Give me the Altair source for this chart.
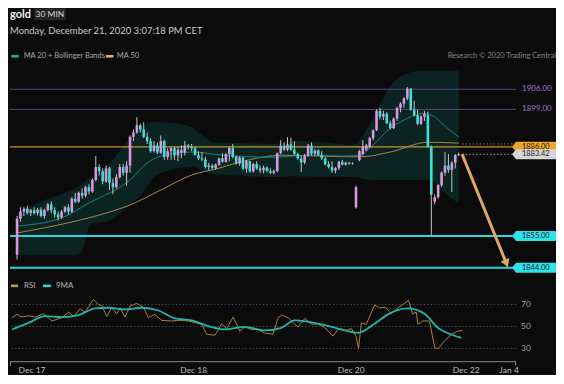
import altair as alt
import pandas as pd

# ---------------- data ----------------
bar_index = list(range(130))
opens = [1848.5, 1861.0, 1863.5, 1864.5, 1863.0, 1864.0, 1863.0, 1864.2, 1862.0, 1864.0,
         1866.0, 1864.0, 1862.5, 1861.5, 1863.5, 1865.0, 1863.5, 1868.0, 1867.0, 1870.0,
         1869.0, 1872.0, 1870.5, 1874.5, 1879.0, 1877.5, 1874.0, 1878.5, 1873.5, 1872.0,
         1875.5, 1879.0, 1877.0, 1879.5, 1889.5, 1891.0, 1893.5, 1892.0, 1889.5, 1888.0,
         1884.5, 1886.5, 1884.0, 1888.0, 1882.5, 1884.5, 1885.5, 1883.0, 1885.0, 1884.0,
         1886.5, 1886.0, 1885.5, 1883.2, 1882.0, 1881.6, 1879.0, 1879.5, 1878.7, 1879.8,
         1882.0, 1880.8, 1883.5, 1885.6, 1882.5, 1880.2, 1882.3, 1878.4, 1881.0, 1877.5,
         1880.0, 1878.5, 1877.8, 1878.8, 1877.6, 1877.0, 1877.6, 1883.8, 1886.4, 1885.0,
         1886.8, 1885.0, 1883.5, 1882.0, 1880.6, 1883.0, 1886.5, 1883.6, 1884.7, 1883.2,
         1882.0, 1880.0, 1879.0, 1877.8, 1878.6, 1880.8, 1879.8, 1880.5, 1880.2, 1865.0,
         1881.4, 1883.5, 1885.0, 1886.0, 1889.0, 1891.8, 1898.5, 1896.5, 1897.5, 1894.2,
         1892.5, 1895.8, 1899.5, 1901.0, 1902.8, 1906.2, 1899.0, 1897.0, 1894.0, 1896.5,
         1897.0, 1886.0, 1867.0, 1868.5, 1872.7, 1877.0, 1879.5, 1878.0, 1880.5, 1883.1]
highs = [1862.0, 1865.0, 1865.0, 1865.5, 1864.5, 1865.0, 1864.8, 1865.0, 1864.5, 1866.5,
         1867.0, 1865.0, 1863.5, 1864.0, 1865.5, 1866.0, 1868.5, 1870.0, 1870.5, 1871.5,
         1872.5, 1873.0, 1875.0, 1882.8, 1880.0, 1878.5, 1879.5, 1879.0, 1875.0, 1876.5,
         1880.0, 1880.0, 1881.0, 1890.0, 1892.0, 1896.3, 1894.0, 1894.5, 1891.0, 1889.0,
         1888.0, 1887.5, 1890.0, 1888.5, 1885.5, 1886.0, 1886.0, 1886.0, 1886.5, 1888.0,
         1887.0, 1887.0, 1886.0, 1884.5, 1884.2, 1882.5, 1880.5, 1880.0, 1880.2, 1882.2,
         1883.8, 1883.8, 1886.0, 1887.0, 1883.0, 1882.8, 1882.5, 1881.5, 1881.2, 1880.5,
         1881.0, 1879.5, 1879.5, 1879.2, 1878.5, 1878.2, 1884.0, 1888.3, 1887.5, 1889.4,
         1889.2, 1888.0, 1884.0, 1883.0, 1883.5, 1887.0, 1887.5, 1885.2, 1885.2, 1884.5,
         1882.5, 1881.0, 1881.0, 1879.0, 1881.2, 1881.5, 1880.8, 1880.8, 1880.6, 1872.5,
         1885.0, 1888.3, 1887.0, 1889.5, 1892.0, 1899.0, 1899.5, 1898.5, 1898.0, 1895.0,
         1896.2, 1900.0, 1901.5, 1903.2, 1906.8, 1906.5, 1902.0, 1898.8, 1897.0, 1898.5,
         1898.2, 1886.5, 1869.5, 1873.0, 1877.5, 1884.2, 1883.5, 1881.0, 1883.5, 1884.0]
lows = [1846.8, 1860.0, 1862.0, 1862.5, 1862.0, 1862.5, 1862.2, 1861.5, 1861.0, 1863.5,
        1863.0, 1861.5, 1860.5, 1861.0, 1863.0, 1862.5, 1863.0, 1866.5, 1866.5, 1868.0,
        1868.5, 1869.5, 1870.0, 1874.0, 1876.0, 1873.0, 1873.5, 1871.0, 1869.5, 1871.5,
        1875.0, 1876.0, 1872.5, 1877.0, 1888.0, 1890.5, 1891.0, 1889.0, 1887.0, 1884.0,
        1884.0, 1883.5, 1883.5, 1881.5, 1881.5, 1881.5, 1881.5, 1881.0, 1882.0, 1883.0,
        1885.0, 1884.5, 1883.0, 1881.5, 1881.0, 1878.5, 1878.0, 1878.2, 1878.0, 1879.5,
        1880.5, 1880.5, 1881.0, 1882.0, 1879.8, 1879.5, 1878.0, 1877.0, 1877.0, 1877.0,
        1878.0, 1877.0, 1876.8, 1877.2, 1876.6, 1876.5, 1877.2, 1883.5, 1884.5, 1884.5,
        1884.6, 1883.0, 1881.5, 1877.3, 1880.0, 1882.5, 1883.0, 1882.8, 1882.8, 1881.5,
        1879.5, 1878.5, 1877.0, 1876.8, 1878.0, 1879.5, 1879.5, 1879.8, 1879.8, 1864.5,
        1881.0, 1883.0, 1884.5, 1885.6, 1888.3, 1891.5, 1895.5, 1895.3, 1893.8, 1892.0,
        1892.2, 1895.0, 1898.0, 1899.6, 1902.2, 1898.5, 1896.5, 1893.5, 1893.5, 1895.0,
        1885.8, 1855.4, 1866.0, 1868.0, 1872.0, 1876.0, 1877.0, 1870.3, 1878.5, 1882.8]
closes = [1861.0, 1863.5, 1864.5, 1863.0, 1864.0, 1863.0, 1864.2, 1862.0, 1864.0, 1866.0,
          1864.0, 1862.5, 1861.5, 1863.5, 1865.0, 1863.5, 1868.0, 1867.0, 1870.0, 1869.0,
          1872.0, 1870.5, 1874.5, 1879.0, 1877.5, 1874.0, 1878.5, 1873.5, 1872.0, 1875.5,
          1879.0, 1877.0, 1879.5, 1889.5, 1891.0, 1893.5, 1892.0, 1889.5, 1888.0, 1884.5,
          1886.5, 1884.0, 1888.0, 1882.5, 1884.5, 1885.5, 1883.0, 1885.0, 1884.0, 1886.5,
          1886.0, 1885.5, 1883.2, 1882.0, 1881.6, 1879.0, 1879.5, 1878.7, 1879.8, 1882.0,
          1880.8, 1883.5, 1885.6, 1882.5, 1880.2, 1882.3, 1878.4, 1881.0, 1877.5, 1880.0,
          1878.5, 1877.8, 1878.8, 1877.6, 1877.0, 1877.6, 1883.8, 1886.4, 1885.0, 1886.8,
          1885.0, 1883.5, 1882.0, 1880.6, 1883.0, 1886.5, 1883.6, 1884.7, 1883.2, 1882.0,
          1880.0, 1879.0, 1877.8, 1878.6, 1880.8, 1879.8, 1880.5, 1880.2, 1880.4, 1872.0,
          1884.5, 1886.0, 1886.5, 1889.0, 1891.8, 1898.5, 1896.5, 1897.5, 1894.2, 1892.5,
          1895.8, 1899.5, 1901.0, 1902.8, 1906.2, 1899.0, 1897.0, 1894.0, 1896.5, 1897.5,
          1886.0, 1869.3, 1868.5, 1872.7, 1877.0, 1879.5, 1878.0, 1880.5, 1883.1, 1883.42]

band_idx = [0, 6, 16, 19, 21, 23, 26, 33, 36, 40, 45, 51, 54, 57, 65, 75, 80, 90, 98,
            101, 104, 107, 110, 113, 117, 121, 124, 127, 129]
band_upper = [1863.0, 1866.5, 1871.0, 1873.0, 1875.0, 1876.0, 1879.0, 1889.0, 1892.5, 1894.6,
              1894.4, 1892.8, 1890.0, 1887.6, 1887.3, 1887.0, 1888.0, 1887.5, 1886.6,
              1890.0, 1896.0, 1903.0, 1908.5, 1911.0, 1912.3, 1912.5, 1912.5, 1912.5, 1912.5]
band_lower = [1848.5, 1848.5, 1848.5, 1849.5, 1858.0, 1859.6, 1860.0, 1866.0, 1869.0, 1875.5,
              1878.0, 1879.0, 1878.0, 1876.5, 1876.0, 1875.5, 1875.8, 1875.6, 1875.5,
              1875.0, 1874.5, 1874.5, 1874.5, 1874.5, 1874.5, 1874.5, 1871.0, 1868.0, 1866.5]

ma20_idx = [0, 13, 21, 33, 38, 42, 51, 60, 75, 85, 95, 100, 104, 109, 113, 119, 122, 124, 129]
ma20_val = [1858.5, 1861.3, 1866.5, 1874.5, 1880.4, 1882.8, 1884.2, 1883.1, 1882.4, 1883.1,
            1882.8, 1883.1, 1886.6, 1892.5, 1895.3, 1897.7, 1896.3, 1894.2, 1889.4]

ma50_idx = [0, 16, 26, 33, 42, 51, 59, 65, 78, 94, 100, 109, 120, 129]
ma50_val = [1856.1, 1859.9, 1863.0, 1865.8, 1871.0, 1876.2, 1878.6, 1880.7, 1883.1, 1882.6,
            1882.5, 1884.2, 1887.6, 1887.3]

rsi_idx = [0, 1.4, 2.8, 4.7, 6.6, 9, 11.4, 14.3, 16.2, 17.6, 19.5, 20.9, 23.3, 24.7, 25.7,
           27.1, 28.5, 30, 30.9, 32.3, 33.8, 35.7, 37.6, 39, 40.9, 42.8, 45.7, 47.6, 50.5,
           52.8, 54.3, 55.7, 58.1, 60, 61.4, 63.3, 65.2, 66.6, 68.5, 70.5, 72.3, 74.7, 76.2,
           77.1, 79, 81.9, 83.8, 85.7, 87.6, 89.5, 91.9, 93.3, 95.7, 97.1, 98.5, 99.2, 100,
           101.4, 102.3, 103.8, 105.2, 107.1, 108.5, 110.5, 111.9, 113.5, 114.7, 115.7, 116.2,
           117.6, 119.5, 121, 122, 123.8, 125.7, 127.6, 129]
rsi_val = [57.9, 61, 58.5, 59.7, 58.5, 61.5, 55, 58, 63, 59, 66, 63, 74.5, 70, 69,
           59, 67, 61.5, 67, 58.5, 68.5, 71, 67.5, 58, 61, 55.5, 55, 55.5, 55,
           53, 52, 43, 42, 52.4, 48, 58.5, 45.8, 49.4, 47.3, 47.3, 44, 43, 58,
           60.5, 58, 49.4, 57.3, 52, 52.4, 48.8, 41.2, 47.3, 46.4, 48.2, 41, 30, 53.3,
           51.8, 58.5, 69.4, 67, 67, 61.5, 67, 70, 73.6, 61.5, 63, 52,
           55, 55, 30.6, 30, 36.7, 42.7, 45.8, 46.4]

ma9_idx = [0, 4.7, 9.5, 14.3, 19, 23.8, 27.6, 32.3, 37.1, 41.9, 46.6, 51.4, 56.2, 60.9,
           66.6, 72.3, 77.1, 80.9, 89.5, 94.3, 99, 103.8, 107.6, 113.3, 118.1, 121.9,
           125.7, 128.6]
ma9_val = [47.3, 53.3, 59.4, 58.5, 60.3, 66.4, 67, 65.5, 67, 64.5, 57.3, 55.5, 50.3, 47.3,
           49.7, 46.4, 48.8, 55.5, 51.2, 47.3, 44.2, 52.4, 61, 66.4, 61.5, 48.8,
           42.7, 39.7]

purple_levels = [1906.0, 1899.0]
orange_level = [1886.0]
cyan_levels = [1855.0, 1844.0]
last_price = 1883.42
ma50_last = 1887.0
arrow_idx = [130.0, 142.7]
arrow_val = [1883.42, 1846.2]
arrow_head = (142.95, 1845.5)

tick_idx = [5.7, 52.0, 97.1, 130.0, 142.3]
tick_text = ["Dec 17", "Dec 18", "Dec 20", "Dec 22", "Jan 4"]
rsi_levels = [70, 50, 30]

title_text = "gold"
interval_text = "30 MIN"
stamp_text = "Monday, December 21, 2020 3:07:18 PM CET"
legend_ma20 = "MA 20 + Bollinger Bands"
legend_ma50 = "MA 50"
credit_text = "Research \u00a9 2020 Trading Central"
legend_rsi = "RSI"
legend_ma9 = "9MA"

# ---------------- styling ----------------
FONT = "Lato"
W, H = 507, 212
RH = 75
PINK, CYAN = "#dc95e2", "#3fe0d4"
xs = alt.Scale(domain=[-0.6, 144.3], nice=False, zero=False)
ys = alt.Scale(domain=[1840.5, 1914.0], nice=False, zero=False)
rs = alt.Scale(domain=[18, 86], nice=False, zero=False)


def X(f):
    return alt.X(f, type="quantitative", scale=xs, axis=None)


def Y(f):
    return alt.Y(f, type="quantitative", scale=ys, axis=None)


def RY(f):
    return alt.Y(f, type="quantitative", scale=rs, axis=None)


one = pd.DataFrame({"t": [""]})


def txt(s, x, y, **kw):
    return alt.Chart(pd.DataFrame({"t": [s]})).mark_text(font=FONT, **kw).encode(
        x=alt.value(x), y=alt.value(y), text="t:N")


def box(x1, x2, y1, y2, color):
    return alt.Chart(one).mark_rect(color=color).encode(
        x=alt.value(x1), x2=alt.value(x2), y=alt.value(y1), y2=alt.value(y2))


# ---------------- main price panel ----------------
candles = pd.DataFrame({"i": bar_index, "open": opens, "high": highs,
                        "low": lows, "close": closes})
band_df = pd.DataFrame({"i": band_idx, "upper": band_upper, "lower": band_lower})
band = alt.Chart(band_df).mark_area(color="#0b2422", interpolate="monotone").encode(
    x=X("i"), y=Y("upper"), y2="lower")

ma20 = alt.Chart(pd.DataFrame({"i": ma20_idx, "v": ma20_val})).mark_line(
    color="#1f8079", strokeWidth=1, interpolate="monotone").encode(x=X("i"), y=Y("v"))
ma50 = alt.Chart(pd.DataFrame({"i": ma50_idx, "v": ma50_val})).mark_line(
    color="#a6864f", strokeWidth=1, interpolate="monotone").encode(x=X("i"), y=Y("v"))

purple = alt.Chart(pd.DataFrame({"p": purple_levels})).mark_rule(
    color="#5d437f", strokeWidth=1).encode(y=Y("p"))
orange = alt.Chart(pd.DataFrame({"p": orange_level})).mark_rule(
    color="#c8922f", strokeWidth=1.2).encode(y=Y("p"))
cyan = alt.Chart(pd.DataFrame({"p": cyan_levels})).mark_rule(
    color="#2fd4df", strokeWidth=2).encode(y=Y("p"))

dots = alt.Chart(pd.DataFrame({"i": [130.0, 130.0], "p": [last_price, ma50_last],
                               "c": ["#9a9a9a", "#b0704a"]})).mark_rule(
    strokeDash=[1.5, 2], strokeWidth=1).encode(
    x=X("i"), x2=alt.value(W), y=Y("p"), color=alt.Color("c:N", scale=None))

wicks = alt.Chart(candles).mark_rule(color="#c4c4c4", strokeWidth=1).encode(
    x=X("i"), y=Y("low"), y2="high")
bodies = alt.Chart(candles).transform_calculate(
    d="datum.close >= datum.open ? 'up' : 'down'"
).mark_bar(size=2.6).encode(
    x=X("i"), y=Y("open"), y2="close",
    color=alt.Color("d:N", scale=alt.Scale(domain=["up", "down"], range=[PINK, CYAN]),
                    legend=None))

arrow = alt.Chart(pd.DataFrame({"i": arrow_idx, "p": arrow_val})).mark_line(
    color="#e2a765", strokeWidth=3).encode(x=X("i"), y=Y("p"))
head = alt.Chart(pd.DataFrame({"i": [arrow_head[0]], "p": [arrow_head[1]]})).mark_point(
    shape="triangle-down", filled=True, size=85, angle=337.4, color="#e2a765",
    opacity=1, strokeWidth=0).encode(x=X("i"), y=Y("p"))

purple_lbl = alt.Chart(pd.DataFrame({"p": purple_levels})).transform_calculate(
    t="format(datum.p, '.2f')").mark_text(
    font=FONT, fontSize=8, align="left", baseline="middle", color="#a678d6").encode(
    x=alt.value(513), y=Y("p"), text="t:N")

tag_df = pd.DataFrame({"p": orange_level + [last_price] + cyan_levels,
                       "fill": ["#f0a52b", "#d6d6d6", "#2fe2ea", "#2fe2ea"]})
TAG = "M-1.2,0 L-1,-0.25 L1,-0.25 L1,0.25 L-1,0.25 Z"
tags = alt.Chart(tag_df).mark_point(shape=TAG, size=1600, filled=True, opacity=1,
                                    strokeWidth=0).encode(
    x=alt.value(527), y=Y("p"), color=alt.Color("fill:N", scale=None))
tag_lbl = alt.Chart(tag_df).transform_calculate(t="format(datum.p, '.2f')").mark_text(
    font=FONT, fontSize=7.4, align="left", baseline="middle", color="#1a1a1a").encode(
    x=alt.value(513), y=Y("p"), text="t:N")

header = [
    box(24, 56, -58, -46, "#262626"),
    txt(interval_text, 40, -52, fontSize=8.5, align="center", baseline="middle",
        color="#cfcfcf"),
    txt(title_text, 0, -48, fontSize=11, fontWeight="bold", align="left",
        baseline="alphabetic", color="#f2f2f2"),
    txt(stamp_text, 0, -35, fontSize=9.5, align="left", baseline="middle",
        color="#c9c9c9"),
    box(1.3, 8.7, -11.3, -8.7, "#27a9a1"),
    txt(legend_ma20, 13.7, -10, fontSize=7.5, align="left", baseline="middle",
        color="#a8a8a8"),
    box(96, 103.7, -11.3, -8.7, "#d7b16c"),
    txt(legend_ma50, 107, -10, fontSize=7.5, align="left", baseline="middle",
        color="#a8a8a8"),
    txt(credit_text, 547, -10, fontSize=7.5, align="right", baseline="middle",
        color="#858585"),
]

main = alt.layer(band, purple, orange, cyan, ma50, ma20, dots, wicks, bodies,
                 arrow, head, purple_lbl, tags, tag_lbl, *header).properties(
    width=W, height=H)

# ---------------- RSI panel ----------------
grid = alt.Chart(pd.DataFrame({"l": rsi_levels})).mark_rule(
    color="#4d4d4d", strokeDash=[1.5, 2], strokeWidth=1).encode(y=RY("l"))
grid_lbl = alt.Chart(pd.DataFrame({"l": rsi_levels})).mark_text(
    font=FONT, fontSize=8.5, align="left", baseline="middle", color="#a5a5a5").encode(
    x=alt.value(512), y=RY("l"), text=alt.Text("l:Q", format="d"))
rsi = alt.Chart(pd.DataFrame({"i": rsi_idx, "v": rsi_val})).mark_line(
    color="#a97f3c", strokeWidth=1).encode(x=X("i"), y=RY("v"))
ma9 = alt.Chart(pd.DataFrame({"i": ma9_idx, "v": ma9_val})).mark_line(
    color="#20b5a9", strokeWidth=1.8, interpolate="monotone").encode(x=X("i"), y=RY("v"))

axis_line = alt.Chart(one).mark_rule(color="#8a8a8a", strokeWidth=1).encode(
    x=alt.value(0), x2=alt.value(W), y=alt.value(RH))
axis_ends = alt.Chart(pd.DataFrame({"x": [0.5, W - 0.5]})).mark_rule(
    color="#8a8a8a", strokeWidth=1).encode(
    x=alt.X("x:Q", scale=None, axis=None), y=alt.value(RH), y2=alt.value(RH + 4))
ticks = alt.Chart(pd.DataFrame({"i": tick_idx, "t": tick_text})).mark_text(
    font=FONT, fontSize=8.5, align="center", baseline="middle", color="#bdbdbd").encode(
    x=X("i"), y=alt.value(RH + 8.5), text="t:N")

rsi_legend = [
    box(1, 8, -2.3, 0.3, "#c69a4c"),
    txt(legend_rsi, 14, -1, fontSize=8, align="left", baseline="middle", color="#b5b5b5"),
    box(33, 41, -2.3, 0.3, "#2fd6d6"),
    txt(legend_ma9, 46, -1, fontSize=8, align="left", baseline="middle", color="#b5b5b5"),
]

lower = alt.layer(grid, grid_lbl, rsi, ma9, axis_line, axis_ends, ticks,
                  *rsi_legend).properties(width=W, height=RH)

chart = alt.vconcat(main, lower, spacing=9, bounds="flush").configure(
    background="#0b0b0b", padding=0).configure_view(stroke=None)

chart.save("out.html", embed_options={"renderer": "svg", "actions": False})
